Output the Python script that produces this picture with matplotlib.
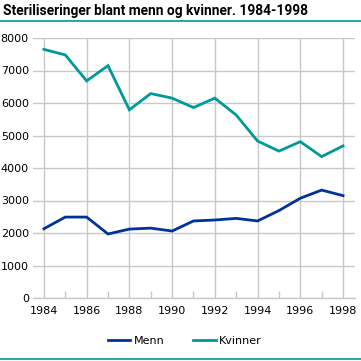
import matplotlib
matplotlib.use("Agg")
import matplotlib.pyplot as plt
from matplotlib.lines import Line2D

# data
years = list(range(1984, 1999))
menn = [2130, 2490, 2490, 1970, 2120, 2150, 2060, 2370, 2400, 2450,
        2370, 2690, 3070, 3320, 3150]
kvinner = [7650, 7480, 6680, 7150, 5790, 6290, 6150, 5860, 6150, 5630,
           4830, 4520, 4810, 4350, 4680]
x_ticks = list(range(1984, 1999, 2))
minor_ticks = list(range(1985, 1998, 2))
y_ticks = [0, 1000, 2000, 3000, 4000, 5000, 6000, 7000, 8000]

c_menn = "#003399"
c_kvinner = "#009999"
grid_c = "#c8c8c8"

W = H = 361
fig = plt.figure(figsize=(W / 100, H / 100), dpi=100)
ax = fig.add_axes([33 / W, 1 - 298 / H, (355 - 33) / W, (298 - 38) / H])

ax.plot(years, menn, color=c_menn, lw=2.0, solid_joinstyle="miter")
ax.plot(years, kvinner, color=c_kvinner, lw=2.0, solid_joinstyle="miter")

ax.set_xlim(1983.49, 1998.56)
ax.set_ylim(0, 8000)
ax.set_xticks(x_ticks)
ax.set_xticks(minor_ticks, minor=True)
ax.set_yticks(y_ticks)
ax.set_yticklabels([str(v) for v in y_ticks])

ax.grid(True, which="major", color=grid_c, lw=1.0)
ax.set_axisbelow(True)
for s in ["top", "right", "left"]:
    ax.spines[s].set_visible(False)
ax.spines["bottom"].set_color(grid_c)
ax.spines["bottom"].set_linewidth(1.0)

ax.tick_params(axis="y", length=0, pad=3, labelsize=8, colors="black")
ax.tick_params(axis="x", which="major", length=0, pad=6, labelsize=8)
ax.tick_params(axis="x", which="minor", direction="in", length=5,
               color=grid_c, width=1.0)

# title and the teal rules
fig.text(3 / W, 1 - 11 / H, "Steriliseringer blant menn og kvinner. 1984-1998",
         fontsize=9.9, fontweight="bold", family="Roboto",
         va="center", ha="left")
fig.add_artist(Line2D([0, 1], [1 - 21 / H] * 2, color=c_kvinner, lw=1.2,
                      transform=fig.transFigure))
fig.add_artist(Line2D([0, 1], [1 - 359 / H] * 2, color=c_kvinner, lw=1.2,
                      transform=fig.transFigure))

handles = [Line2D([], [], color=c_menn, lw=2.0),
           Line2D([], [], color=c_kvinner, lw=2.0)]
fig.legend(handles, ["Menn", "Kvinner"], loc="center",
           bbox_to_anchor=(185 / W, 1 - 341 / H), ncol=2, frameon=False,
           fontsize=8, handlelength=2.0, handletextpad=0.3,
           columnspacing=2.6)

fig.savefig("out.png", dpi=100)
